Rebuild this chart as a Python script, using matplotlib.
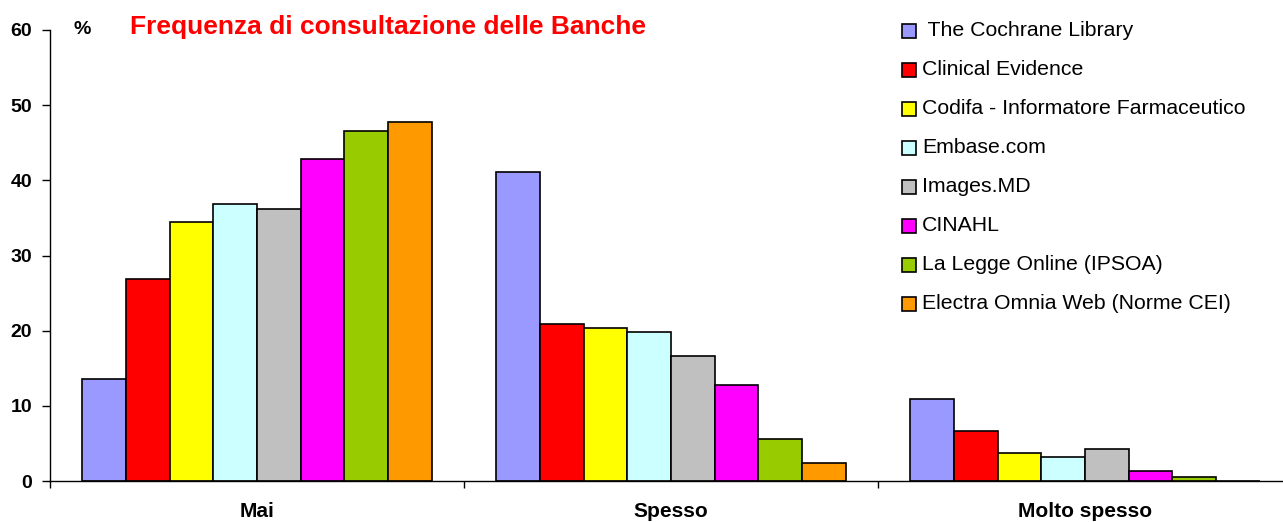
import matplotlib
matplotlib.use("Agg")
import matplotlib.pyplot as plt
import numpy as np
from matplotlib.patches import Rectangle

categories = ["Mai", "Spesso", "Molto spesso"]
series_names = [" The Cochrane Library", "Clinical Evidence", "Codifa - Informatore Farmaceutico",
                "Embase.com", "Images.MD", "CINAHL", "La Legge Online (IPSOA)",
                "Electra Omnia Web (Norme CEI)"]
colors = ["#9999FF", "#FF0000", "#FFFF00", "#CCFFFF", "#C0C0C0", "#FF00FF", "#99CC00", "#FF9900"]
values = [
    [13.6, 41.1, 10.9],   # Cochrane
    [26.9, 20.9, 6.6],    # Clinical Evidence
    [34.4, 20.3, 3.7],    # Codifa
    [36.8, 19.8, 3.2],    # Embase
    [36.2, 16.6, 4.3],    # Images.MD
    [42.9, 12.8, 1.3],    # CINAHL
    [46.6, 5.6, 0.5],     # La Legge
    [47.7, 2.4, 0.0],     # Electra
]
yticks = [0, 10, 20, 30, 40, 50, 60]

plt.rcParams['font.family'] = ['Liberation Sans', 'DejaVu Sans']

W, H = 1283, 522
fig = plt.figure(figsize=(W/100, H/100), dpi=100)
ax = fig.add_axes([50/W, 41/H, 1242/W, 451/H])

n = len(series_names)
bw = 0.843 / n
x = np.arange(len(categories))
for i in range(n):
    ax.bar(x - 0.843/2 + bw*(i+0.5), values[i], width=bw, color=colors[i],
           edgecolor="black", linewidth=1.2, zorder=2)

ax.set_xlim(-0.5, len(categories) - 0.5)
ax.set_ylim(0, 60)
ax.set_yticks(yticks)
ax.set_yticklabels([str(t) for t in yticks], fontsize=14, fontweight="bold")
ax.set_xticks(np.arange(-0.5, len(categories), 1.0))
ax.set_xticklabels([])
ax.set_xticks(x, minor=True)
ax.set_xticklabels(categories, minor=True, fontsize=15, fontweight="bold")
ax.tick_params(axis="x", which="minor", length=0, pad=15)
ax.tick_params(axis="x", which="major", length=5, width=1, direction="out")
ax.tick_params(axis="y", length=6, width=1, direction="out", pad=7)
for s in ["top", "right"]:
    ax.spines[s].set_visible(False)
for s in ["left", "bottom"]:
    ax.spines[s].set_linewidth(1)

fig.text(73/W, 1 - 30/H, "%", fontsize=14, fontweight="bold", va="center", ha="left")
fig.text(130/W, 1 - 27/H, "Frequenza di consultazione delle Banche", fontsize=19,
         fontweight="bold", color="#FF0000", va="center", ha="left")

# legend drawn manually
for i, (c, name) in enumerate(zip(colors, series_names)):
    yc = 30 + 39.1 * i
    fig.add_artist(Rectangle((902/W, 1 - (yc + 7.5)/H), 14/W, 14/H, transform=fig.transFigure,
                             facecolor=c, edgecolor="black", linewidth=1.2))
    fig.text(922/W, 1 - yc/H, name, fontsize=15.3, va="center", ha="left")

fig.savefig("out.png", dpi=100)
